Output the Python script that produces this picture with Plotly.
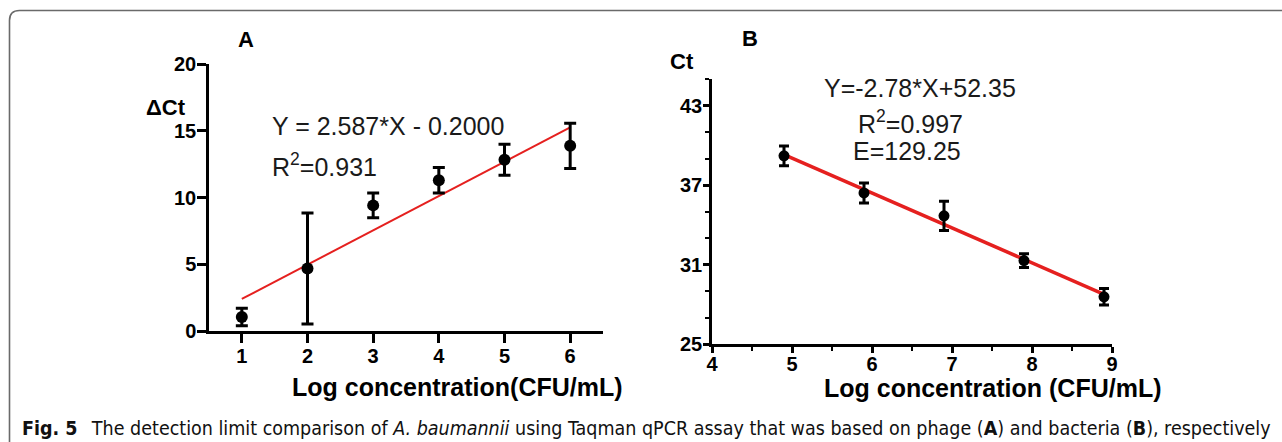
import plotly.graph_objects as go

# ---------------- data ----------------
# Panel A (phage)
a_x = [1, 2, 3, 4, 5, 6]
a_y = [1.05, 4.68, 9.41, 11.29, 12.82, 13.87]
a_err = [0.65, 4.15, 0.93, 0.95, 1.16, 1.70]
a_fit_x = [1, 6]
a_fit_y = [2.40, 15.25]
a_xticks = [1, 2, 3, 4, 5, 6]
a_yticks = [0, 5, 10, 15, 20]

# Panel B (bacteria)
b_x = [4.9, 5.9, 6.9, 7.9, 8.9]
b_y = [39.2, 36.4, 34.67, 31.3, 28.56]
b_err = [0.75, 0.75, 1.10, 0.52, 0.62]
b_fit_x = [4.9, 8.9]
b_fit_y = [39.3, 28.75]
b_xticks = [4, 5, 6, 7, 8, 9]
b_yticks = [25, 31, 37, 43]

W, H = 1282, 442
FONT = "Liberation Sans, Arial, sans-serif"
RED = "#e5201f"


def px(x):
    return x / W


def py(y):
    return 1 - y / H


fig = go.Figure()

# Panel A
fig.add_trace(go.Scatter(x=a_fit_x, y=a_fit_y, mode="lines",
                         line=dict(color=RED, width=2), xaxis="x", yaxis="y",
                         showlegend=False, hoverinfo="skip"))
fig.add_trace(go.Scatter(x=a_x, y=a_y, mode="markers",
                         marker=dict(color="black", size=12),
                         error_y=dict(type="data", array=a_err, color="black",
                                      thickness=3, width=6),
                         xaxis="x", yaxis="y", showlegend=False))

# Panel B
fig.add_trace(go.Scatter(x=b_fit_x, y=b_fit_y, mode="lines",
                         line=dict(color=RED, width=3.5), xaxis="x2", yaxis="y2",
                         showlegend=False, hoverinfo="skip"))
fig.add_trace(go.Scatter(x=b_x, y=b_y, mode="markers",
                         marker=dict(color="black", size=11),
                         error_y=dict(type="data", array=b_err, color="black",
                                      thickness=3, width=5),
                         xaxis="x2", yaxis="y2", showlegend=False))

tickfont = dict(family=FONT, size=20, color="black", weight="bold")
axis_common = dict(showline=True, linecolor="black", linewidth=2.5, showgrid=False,
                   zeroline=False, ticks="outside", tickcolor="black", tickwidth=2.5,
                   tickfont=tickfont, automargin=False)

fig.update_layout(
    width=W, height=H,
    margin=dict(l=0, r=0, t=0, b=0, pad=0, autoexpand=False),
    paper_bgcolor="white", plot_bgcolor="white",
    xaxis=dict(domain=[px(209), px(603)], range=[0.5, 6.5], tickvals=a_xticks,
               ticklen=9, anchor="y", ticklabelstandoff=-4, **axis_common),
    yaxis=dict(domain=[py(331), py(64)], range=[0, 20], tickvals=a_yticks,
               ticklen=9, anchor="x", ticklabelstandoff=-3, **axis_common),
    xaxis2=dict(domain=[px(712), px(1112)], range=[4, 9], tickvals=b_xticks,
                ticklen=6, anchor="y2", ticklabelstandoff=-6,
                minor=dict(dtick=0.5, tick0=4, ticklen=4, ticks="outside",
                           tickcolor="black", tickwidth=2),
                **axis_common),
    yaxis2=dict(domain=[py(344), py(79)], range=[25, 45], tickvals=b_yticks,
                ticklen=6, anchor="x2", ticklabelstandoff=-3,
                minor=dict(dtick=2, tick0=25, ticklen=4, ticks="outside",
                           tickcolor="black", tickwidth=2),
                **axis_common),
)

ann = []


def add_text(text, x, y, size, bold=False, xanchor="center", color="black", family=FONT):
    ann.append(dict(text=text, x=px(x), y=py(y), xref="paper", yref="paper",
                    xanchor=xanchor, yanchor="middle", showarrow=False,
                    font=dict(family=family, size=size, color=color,
                              weight="bold" if bold else "normal")))


# Panel labels
add_text("A", 246, 39, 22, bold=True)
add_text("B", 750, 38, 22, bold=True)
# Y titles
add_text("\u0394Ct", 166, 107, 22, bold=True)
add_text("Ct", 682, 62, 22, bold=True)
# X titles
add_text("Log concentration(CFU/mL)", 457, 387, 25, bold=True)
add_text("Log concentration (CFU/mL)", 992, 388, 25, bold=True)
# Equations
add_text("Y = 2.587*X - 0.2000", 388, 126, 25, color="#1a1a1a")
add_text("R<sup>2</sup>=0.931", 324, 165, 25, color="#1a1a1a")
add_text("Y=-2.78*X+52.35", 920, 88, 25, color="#1a1a1a")
add_text("R<sup>2</sup>=0.997", 910, 122, 25, color="#1a1a1a")
add_text("E=129.25", 907, 151, 25, color="#1a1a1a")
# Caption
add_text("<b>Fig. 5</b>\u2002 The detection limit comparison of <i>A. baumannii</i> using Taqman qPCR assay "
         "that was based on phage (<b>A</b>) and bacteria (<b>B</b>), respectively",
         20, 428, 19.5, xanchor="left", color="#111",
         family="Liberation Sans Narrow, DejaVu Sans Condensed, Liberation Sans, sans-serif")

fig.update_layout(annotations=ann)

# Frame border with rounded top-left corner
x0, yt, r = 9.5, 10.5, 10
path = (f"M {px(x0)},0 L {px(x0)},{py(yt + r)} "
        f"Q {px(x0)},{py(yt)} {px(x0 + r)},{py(yt)} L 1,{py(yt)}")
fig.add_shape(type="path", path=path, xref="paper", yref="paper",
              line=dict(color="#6a6a6a", width=1.6))

fig.write_html("out.html",
               config={"displayModeBar": False},
               post_script="document.body.style.margin='0px';"
                           "document.body.style.overflow='hidden';")
